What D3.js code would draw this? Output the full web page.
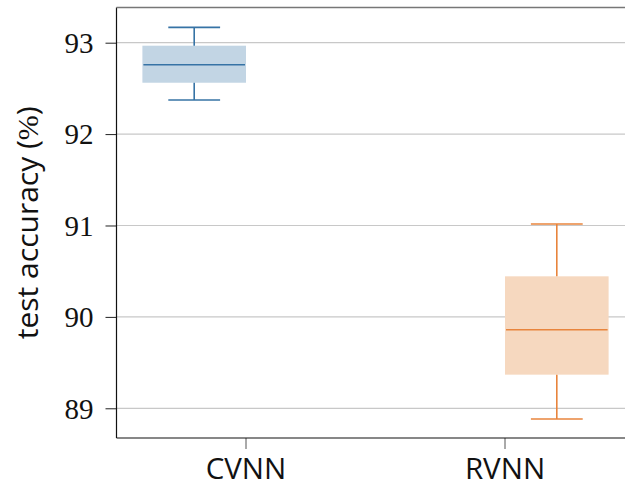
<!DOCTYPE html>
<html>
<head>
<meta charset="utf-8">
<script src="https://cdn.jsdelivr.net/npm/d3@7"></script>
<style>
html,body{margin:0;padding:0;background:#fff;}
svg{display:block;}
</style>
</head>
<body>
<svg id="chart" width="625" height="489"></svg>
<script>
// ---- data ----
const categories = ["CVNN", "RVNN"];
const whiskerLow = [92.373, 88.883];
const q1 = [92.562, 89.368];
const median = [92.759, 89.860];
const q3 = [92.967, 90.444];
const whiskerHigh = [93.168, 91.016];
const dodge = [-0.2, 0.2];
const yTicks = [89, 90, 91, 92, 93];
const fillColors = ["#c2d5e4", "#f6d8bf"];
const lineColors = ["#3673a5", "#e8843c"];

const svg = d3.select("#chart");
const pLeft = 116.5, pRight = 634.5, pTop = 7.5, pBottom = 438;

const x = d3.scaleBand().domain(categories).range([pLeft, pRight]).padding(0);
const bw = x.bandwidth();
const y = d3.scaleLinear().domain([88.675, 93.385]).range([pBottom, pTop]);

// gridlines
svg.append("g").selectAll("line").data(yTicks).join("line")
  .attr("x1", pLeft).attr("x2", 625)
  .attr("y1", d => y(d)).attr("y2", d => y(d))
  .attr("stroke", "#c8c8c8").attr("stroke-width", 1.2);

// boxes
const boxes = svg.append("g").selectAll("g").data(categories).join("g");
const cx = (d, i) => x(d) + bw / 2 + dodge[i] * bw;
const boxW = 0.4 * bw;
const capW = boxW / 2;

boxes.each(function(d, i) {
  const g = d3.select(this);
  const c = cx(d, i);
  g.append("rect")
    .attr("x", c - boxW / 2).attr("width", boxW)
    .attr("y", y(q3[i])).attr("height", y(q1[i]) - y(q3[i]))
    .attr("fill", fillColors[i]);
  g.append("line").attr("x1", c).attr("x2", c)
    .attr("y1", y(q3[i])).attr("y2", y(whiskerHigh[i]))
    .attr("stroke", lineColors[i]).attr("stroke-width", 1.6);
  g.append("line").attr("x1", c).attr("x2", c)
    .attr("y1", y(q1[i])).attr("y2", y(whiskerLow[i]))
    .attr("stroke", lineColors[i]).attr("stroke-width", 1.6);
  [whiskerHigh[i], whiskerLow[i]].forEach(v => {
    g.append("line").attr("x1", c - capW / 2).attr("x2", c + capW / 2)
      .attr("y1", y(v)).attr("y2", y(v))
      .attr("stroke", lineColors[i]).attr("stroke-width", 1.6);
  });
  g.append("line").attr("x1", c - boxW / 2 + 1).attr("x2", c + boxW / 2 - 1)
    .attr("y1", y(median[i])).attr("y2", y(median[i]))
    .attr("stroke", lineColors[i]).attr("stroke-width", 1.6);
});

// y axis
const yAxis = d3.axisLeft(y).tickValues(yTicks).tickSize(11).tickPadding(12).tickFormat(d3.format("d"));
const ya = svg.append("g").attr("transform", `translate(${pLeft},0)`).call(yAxis);
ya.select(".domain").remove();
ya.selectAll(".tick line").attr("stroke", "#222").attr("stroke-width", 1);
ya.selectAll(".tick text")
  .attr("font-family", "'Liberation Serif', 'DejaVu Serif', serif")
  .attr("font-size", 29).attr("fill", "#111").attr("dy", "0.34em");

// x axis
const xAxis = d3.axisBottom(x).tickSize(11).tickPadding(9);
const xa = svg.append("g").attr("transform", `translate(0,${pBottom})`).call(xAxis);
xa.select(".domain").remove();
xa.selectAll(".tick line").attr("stroke", "#555").attr("stroke-width", 1);
xa.selectAll(".tick text")
  .attr("font-family", "'Open Sans', 'Noto Sans', sans-serif")
  .attr("font-size", 29.5).attr("fill", "#111").attr("dy", "0.7em");

// spines
svg.append("line").attr("x1", pLeft).attr("x2", pLeft).attr("y1", pTop).attr("y2", pBottom)
  .attr("stroke", "#111").attr("stroke-width", 1.2);
svg.append("line").attr("x1", pLeft).attr("x2", 625).attr("y1", pBottom).attr("y2", pBottom)
  .attr("stroke", "#111").attr("stroke-width", 1.2);
svg.append("line").attr("x1", pLeft).attr("x2", 625).attr("y1", pTop).attr("y2", pTop)
  .attr("stroke", "#777").attr("stroke-width", 1.6);

// y label
const yl = svg.append("text")
  .attr("transform", `translate(38,${(pTop + pBottom) / 2}) rotate(-90)`)
  .attr("text-anchor", "middle")
  .attr("font-family", "'Open Sans', 'Noto Sans', sans-serif")
  .attr("font-size", 30).attr("fill", "#111");
yl.append("tspan").text("test accuracy (");
yl.append("tspan").attr("font-family", "'Liberation Serif', 'DejaVu Serif', serif").text("%");
yl.append("tspan").text(")");
</script>
</body>
</html>
